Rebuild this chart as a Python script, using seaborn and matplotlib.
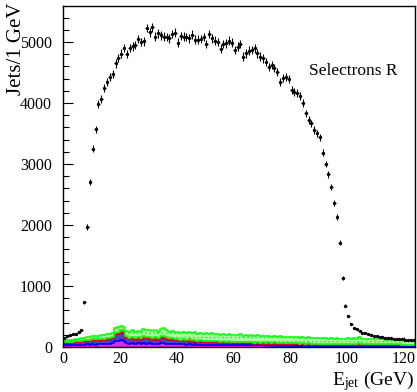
import numpy as np
import pandas as pd
import seaborn as sns
import matplotlib.pyplot as plt
from matplotlib.colors import to_rgb

# jet energy bins, 1 GeV wide
edges = np.arange(0, 125, 1)
centers = edges[:-1] + 0.5

# selectron signal (points)
signal = [150, 175, 190, 205, 220, 245, 285, 730, 1970, 2700, 3250,
          3570, 3980, 4070, 4250, 4340, 4430, 4480, 4650, 4740, 4810,
          4900, 4800, 4900, 4930, 4950, 5050, 5000, 5010, 5230, 5160,
          5240, 5090, 5140, 5110, 5090, 5080, 5060, 5130, 5150, 4990,
          5100, 5090, 5080, 5060, 5120, 5040, 5040, 5050, 5080, 4970,
          5130, 5060, 5020, 5000, 4890, 4970, 4980, 5020, 4990, 4870,
          4923, 4967, 4760, 4814, 4858, 4869, 4896, 4814, 4760, 4732,
          4677, 4595, 4623, 4568, 4513, 4350, 4405, 4421, 4388,
          4213, 4185, 4159, 4115, 3995, 3831, 3721, 3667, 3557, 3503, 3437,
          3185, 3000, 2831, 2618, 2366, 2126, 1710, 1126, 677, 508, 377, 306, 290, 262,
          234, 224, 213, 197, 185, 176, 168, 160, 153, 147, 141, 136, 131, 127,
          123, 119, 116, 113, 110]

# background components (stacked, bottom to top)
bkg_magenta = [30, 32, 35, 30, 38, 34, 40, 36, 42, 38,
               45, 40, 48, 42, 50, 46, 55, 60, 95, 100,
               110, 105, 70, 55, 60, 52, 58, 50, 62, 55,
               58, 50, 55, 48, 60, 62, 55, 48, 52, 45,
               48, 42, 45, 40, 44, 38, 42, 36, 40, 35,
               38, 34, 36, 32, 35, 30, 34, 30, 32, 28,
               30, 28, 32, 27, 30, 26, 29, 25, 28, 26,
               27, 24, 26, 23, 25, 22, 24, 22, 23, 21,
               22, 20, 22, 19, 21, 18, 20, 18, 19, 17,
               18, 17, 18, 16, 17, 15, 16, 15, 16, 14,
               16, 15, 16, 15, 16, 15, 15, 14, 15, 14,
               14, 14, 14, 13, 13, 13, 13, 12, 12, 12, 12, 11, 11, 11]
bkg_blue = [35, 38, 40, 42, 45, 48, 50, 55, 52, 58,
            60, 65, 58, 70, 62, 75, 68, 80, 110, 120,
            130, 125, 80, 75, 85, 70, 78, 72, 90, 85,
            80, 72, 78, 70, 85, 95, 80, 70, 75, 65,
            62, 58, 60, 55, 58, 52, 55, 50, 52, 48,
            48, 45, 46, 42, 44, 40, 42, 38, 40, 36,
            38, 35, 36, 33, 35, 32, 34, 30, 32, 30,
            30, 28, 30, 27, 28, 26, 30, 25, 26, 24,
            25, 23, 24, 22, 24, 21, 23, 20, 22, 20,
            21, 19, 20, 18, 20, 18, 19, 17, 18, 17,
            20, 18, 19, 18, 24, 18, 18, 17, 18, 17,
            17, 16, 17, 16, 16, 16, 16, 15, 15, 15, 15, 14, 14, 14]
bkg_red = [10, 12, 12, 14, 14, 15, 16, 18, 16, 18,
           20, 18, 22, 20, 24, 22, 25, 24, 30, 32,
           35, 32, 25, 24, 26, 22, 25, 22, 28, 26,
           25, 24, 26, 22, 28, 30, 26, 22, 24, 22,
           22, 21, 22, 20, 22, 20, 21, 19, 20, 19,
           20, 19, 20, 18, 20, 18, 19, 18, 19, 17,
           20, 18, 22, 18, 20, 17, 19, 17, 18, 17,
           18, 17, 18, 16, 22, 16, 17, 16, 17, 16,
           17, 16, 22, 15, 17, 15, 16, 15, 16, 15,
           16, 15, 16, 15, 16, 14, 15, 14, 15, 14,
           18, 16, 17, 16, 22, 16, 16, 15, 16, 15,
           15, 15, 15, 14, 15, 14, 14, 14, 14, 13, 13, 13, 13, 12]
bkg_green = [25, 28, 30, 32, 35, 38, 40, 45, 50, 55,
             50, 55, 55, 60, 60, 65, 65, 70, 70, 75,
             65, 70, 80, 100, 110, 95, 105, 100, 115, 110,
             120, 110, 118, 112, 125, 130, 118, 110, 115, 120,
             118, 112, 120, 115, 122, 118, 120, 115, 118, 112,
             118, 115, 120, 116, 118, 114, 117, 113, 116, 112,
             115, 112, 118, 110, 116, 108, 114, 108, 112, 106,
             112, 106, 110, 104, 110, 102, 106, 100, 104, 98,
             102, 98, 104, 96, 102, 95, 100, 94, 98, 92,
             96, 92, 95, 90, 94, 88, 92, 88, 90, 86,
             90, 86, 88, 84, 95, 82, 86, 80, 84, 78,
             82, 78, 80, 76, 78, 74, 76, 72, 74, 70, 72, 68, 70, 66]

components = ["green", "red", "blue", "magenta"]
fills = {"green": "#b4f5ac", "red": "#f03030", "blue": "#5040c0", "magenta": "#d830d8"}
lines = {"green": "#10ff10", "red": "#ff0000", "blue": "#0000ff", "magenta": "#ff00ff"}

frames = []
for name, vals in zip(["magenta", "blue", "red", "green"],
                      [bkg_magenta, bkg_blue, bkg_red, bkg_green]):
    frames.append(pd.DataFrame({"E": centers, "w": vals, "comp": name}))
bkg = pd.concat(frames, ignore_index=True)

sns.set_theme(style="ticks")
plt.rcParams["font.family"] = ["Liberation Serif", "DejaVu Serif"]
plt.rcParams["mathtext.fontset"] = "custom"
plt.rcParams["mathtext.rm"] = "Liberation Serif"
plt.rcParams["mathtext.it"] = "Liberation Serif:italic"
plt.rcParams["hatch.linewidth"] = 0.6

fig = plt.figure(figsize=(4.17, 3.92), dpi=100)
ax = fig.add_axes([63 / 417, 45 / 392, 352 / 417, 341 / 392])

# seaborn stacks the last hue level at the bottom
sns.histplot(data=bkg, x="E", weights="w", hue="comp", hue_order=components,
             multiple="stack", binwidth=1, binrange=(0, 124), element="step",
             fill=True, palette=fills, alpha=1, linewidth=1.2, legend=False, ax=ax)

# colour the step outlines like the stacked ROOT histograms
for coll in ax.collections:
    fc = tuple(np.round(coll.get_facecolor()[0][:3], 3))
    for name, col in fills.items():
        if tuple(np.round(to_rgb(col), 3)) == fc:
            coll.set_edgecolor(lines[name])
            if name == "green":
                coll.set_hatch("....")

sig = np.array(signal, dtype=float)
ax.errorbar(centers, sig, yerr=np.sqrt(sig), xerr=0.5, fmt="o", ms=1.4,
            color="black", elinewidth=0.8, capsize=0, zorder=5)

ax.set_xlim(0, 124)
ax.set_ylim(0, 5590)
ax.set_xticks(np.arange(0, 121, 20))
ax.set_xticks(np.arange(0, 124, 4), minor=True)
ax.set_yticks(np.arange(0, 5001, 1000))
ax.set_yticks(np.arange(0, 5590, 200), minor=True)
ax.tick_params(which="both", direction="in", top=False, right=False,
               labelsize=11.5, color="black", labelcolor="black")
ax.tick_params(which="major", length=7, width=0.8)
ax.tick_params(which="minor", length=4, width=0.8)
ax.tick_params(axis="y", pad=8)
ax.tick_params(axis="x", pad=3)
for sp in ax.spines.values():
    sp.set_visible(True)
    sp.set_color("black")
    sp.set_linewidth(1.0)
ax.set_xlabel("")
ax.set_ylabel("")

ax.text(86.7, 4460, "Selectrons R", fontsize=12.5, color="black", va="baseline")
fig.text(0.039, 0.993, "Jets/1 GeV", rotation=90, ha="center", va="top",
         fontsize=15, color="black")
fig.text(0.992, 0.018, r"E$_{\rm jet}$ (GeV)", ha="right", va="baseline",
         fontsize=14, color="black")

fig.savefig("out.png", dpi=100)
